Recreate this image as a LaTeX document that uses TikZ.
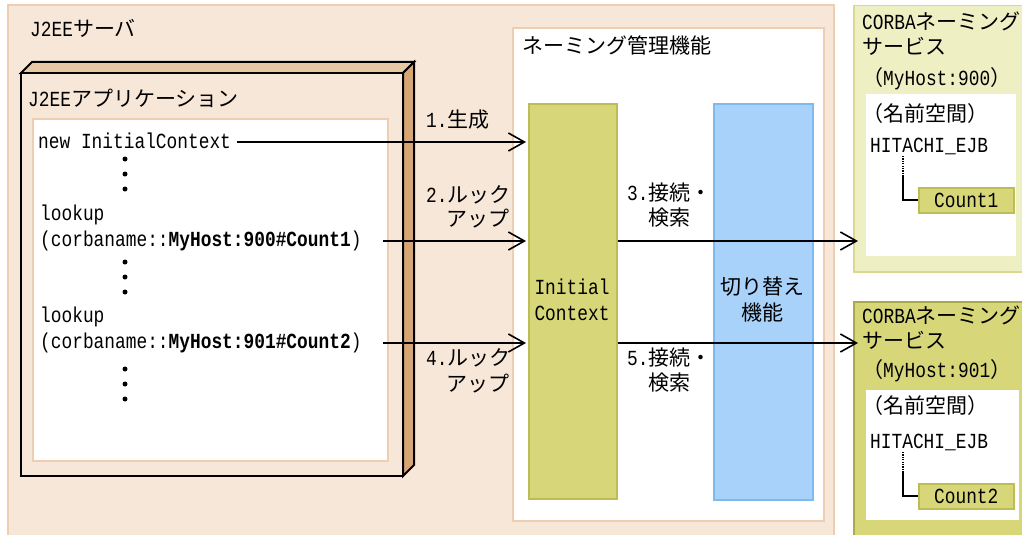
\documentclass[tikz,border=0pt]{standalone}
\usepackage{fontspec}
\setmainfont[FakeStretch=0.83]{Liberation Mono}
\newfontfamily\cjkfont{Noto Sans CJK JP}
\usetikzlibrary{arrows.meta}
\usetikzlibrary{positioning}
\usepackage{xcolor}

\definecolor{servbg}{HTML}{F7E7D8}
\definecolor{servline}{HTML}{EECDB0}
\definecolor{apptop}{HTML}{E8C7A4}
\definecolor{appside}{HTML}{D6A676}
\definecolor{olive}{HTML}{D7D77A}
\definecolor{oliveline}{HTML}{BDBD55}
\definecolor{switchbg}{HTML}{A9D2FA}
\definecolor{switchline}{HTML}{7FB9F2}
\definecolor{corbabg}{HTML}{EFEFC4}
\definecolor{corbaline}{HTML}{D9D98E}

\newcommand{\J}[1]{{\cjkfont\fontsize{21pt}{26pt}\selectfont #1}}

\begin{document}
\begin{tikzpicture}[x=1pt,y=-1pt,
  every node/.style={font=\fontsize{21.5pt}{26pt}\selectfont, inner sep=0pt},
  txt/.style={anchor=base west},
  box/.style={draw, anchor=north west, line width=1.5pt},
  arr/.style={-{Straight Barb[length=16pt,width=18pt]}, line width=1.6pt}]
\useasboundingbox (0,0) rectangle (1022,535);
\clip (0,0) rectangle (1022,535);

% J2EE server
\filldraw[fill=servbg, draw=servline, line width=2pt] (8,5) rectangle (834,545);
\node[txt] (server) at (30,37) {J2EE\J{サーバ}};

% J2EE application (3D box)
\begin{scope}[line width=2pt, line join=miter]
\filldraw[fill=apptop] (21,73) -- (32,62) -- (414,62) -- (403,73) -- cycle;
\filldraw[fill=appside] (403,73) -- (414,62) -- (414,465) -- (403,476) -- cycle;
\filldraw[fill=servbg] (21,73) rectangle (403,476);
\filldraw[fill=white, draw=servline] (33,119) rectangle (388,461);
\end{scope}
\node[txt] (app) at (28,106) {J2EE\J{アプリケーション}};

\node[txt] (newic) at (38,148) {new InitialContext};
\node[txt] (lk1) at (40,220) {lookup};
\node[txt] (cn1) at (40,246) {(corbaname::\textbf{MyHost:900\#Count1})};
\node[txt] (lk2) at (40,322) {lookup};
\node[txt] (cn2) at (40,348) {(corbaname::\textbf{MyHost:901\#Count2})};
\foreach \y in {159,174,189,262,277,292,369,384,399}
  \fill (125,\y) circle (2.5pt);

% naming management
\filldraw[fill=white, draw=servline, line width=2pt] (513,28) rectangle (824,521);
\node[txt] (naming) at (522,53) {\J{ネーミング管理機能}};
\node[box, fill=olive, draw=oliveline, minimum width=88pt, minimum height=395pt] (ic) at (528,103) {};
\node[box, fill=switchbg, draw=switchline, minimum width=99pt, minimum height=396pt] (sw) at (713,103) {};
\node[align=center] at (572,300) {Initial\\Context};
\node[align=center] at (762,300) {\J{切り替え}\\\J{機能}};

% CORBA naming services
\node[box, fill=corbabg, draw=corbaline, minimum width=177pt, minimum height=266pt] (corba1) at (853,5) {};
\fill[white] (866,94) rectangle (1016,256);
\node[txt] at (862,30) {CORBA\J{ネーミング}};
\node[txt] at (862,55) {\J{サービス}};
\node[txt] at (862,85) {\J{（}MyHost:900\J{）}};
\node[txt] at (862,121) {\J{（名前空間）}};
\node[txt] (hj1) at (870,152) {HITACHI\_EJB};
\node[box, fill=olive, draw=oliveline, minimum width=95pt, minimum height=25pt] (cnt1) at (918,187) {};
\node at (cnt1.center) {Count1};
\draw[line width=1.2pt, dash pattern=on 1.2pt off 1.2pt] (903,156) -- (903,176);
\draw[line width=1.6pt] (903,176) |- (cnt1.west);

\node[box, fill=olive, draw=oliveline!90!black, minimum width=177pt, minimum height=250pt] (corba2) at (853,301) {};
\fill[white] (866,390) rectangle (1019,520);
\node[txt] at (862,323) {CORBA\J{ネーミング}};
\node[txt] at (862,348) {\J{サービス}};
\node[txt] at (862,377) {\J{（}MyHost:901\J{）}};
\node[txt] at (862,413) {\J{（名前空間）}};
\node[txt] (hj2) at (870,448) {HITACHI\_EJB};
\node[box, fill=olive, draw=oliveline, minimum width=95pt, minimum height=25pt] (cnt2) at (918,483) {};
\node at (cnt2.center) {Count2};
\draw[line width=1.2pt, dash pattern=on 1.2pt off 1.2pt] (903,452) -- (903,472);
\draw[line width=1.6pt] (903,472) |- (cnt2.west);

% arrows
\coordinate (s1) at (237,142);
\coordinate (s2) at (383,241);
\coordinate (s4) at (383,343);
\draw[arr, shorten >=2pt] (s1) -- (s1 -| ic.west);
\draw[arr, shorten >=2pt] (s2) -- (s2 -| ic.west);
\draw[arr, shorten >=2pt] (s4) -- (s4 -| ic.west);
\draw[arr, shorten >=-5pt] (s2 -| ic.east) -- (s2 -| corba1.west);
\draw[arr, shorten >=-5pt] (s4 -| ic.east) -- (s4 -| corba2.west);

\node[txt] at (426,127) {1.\J{生成}};
\node[txt] at (426,202) {2.\J{ルック}};
\node[anchor=base east] at (510,226) {\J{アップ}};
\node[txt] at (627,200) {3.\J{接続・}};
\node[txt] at (648,225) {\J{検索}};
\node[txt] at (426,365) {4.\J{ルック}};
\node[anchor=base east] at (510,391) {\J{アップ}};
\node[txt] at (627,365) {5.\J{接続・}};
\node[txt] at (648,390) {\J{検索}};
\end{tikzpicture}
\end{document}
